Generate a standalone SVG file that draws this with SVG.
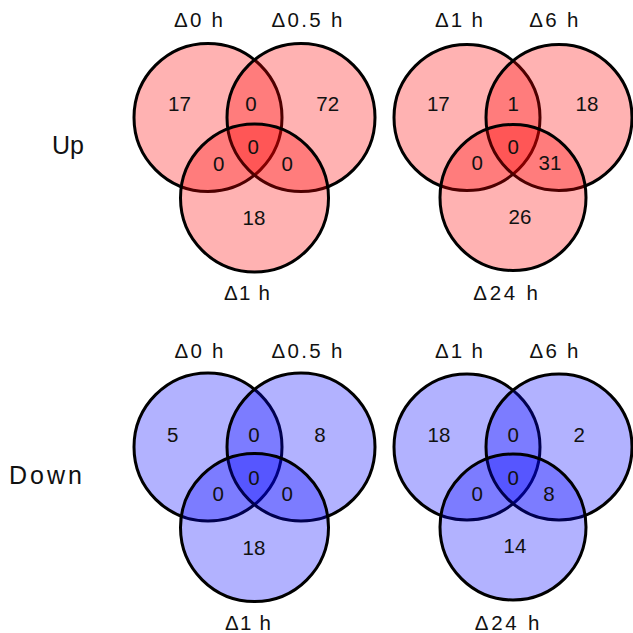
<svg xmlns="http://www.w3.org/2000/svg" width="633" height="633" viewBox="0 0 633 633">
<style>
  .c { stroke: #000; stroke-width: 3; fill-opacity: 0.3; }
  .up .c { fill: #FF0000; }
  .dn .c { fill: #0000FF; }
  text { font-family: "Liberation Sans", Arial, sans-serif; fill: #111; }
  .n { font-size: 20.5px; text-anchor: middle; }
  .lb { font-size: 20.5px; text-anchor: middle; }
  .row { font-size: 25px; text-anchor: end; }
</style>
<rect width="633" height="633" fill="#fff"/>

<text id="label-up" class="row" x="84" y="154" textLength="32" lengthAdjust="spacing">Up</text>
<text id="label-down" class="row" x="82" y="484" textLength="73" lengthAdjust="spacing">Down</text>

<g id="venn-up-1" class="up">
  <circle class="c" cx="208" cy="117.5" r="74"/>
  <circle class="c" cx="301" cy="117.5" r="74"/>
  <circle class="c" cx="254.5" cy="198" r="74"/>
  <text class="lb" x="198.5" y="27" textLength="49" lengthAdjust="spacing">Δ0 h</text>
  <text class="lb" x="307" y="27" textLength="71" lengthAdjust="spacing">Δ0.5 h</text>
  <text class="lb" x="247" y="300" textLength="46" lengthAdjust="spacing">Δ1 h</text>
  <text class="n" x="179.5" y="110.7">17</text>
  <text class="n" x="251" y="110.7">0</text>
  <text class="n" x="327.7" y="110.7">72</text>
  <text class="n" x="253.3" y="154">0</text>
  <text class="n" x="218.7" y="170.7">0</text>
  <text class="n" x="287.3" y="170.7">0</text>
  <text class="n" x="254" y="225">18</text>
</g>

<g id="venn-up-2" class="up">
  <circle class="c" cx="467" cy="117.5" r="73"/>
  <circle class="c" cx="559" cy="117.5" r="73"/>
  <circle class="c" cx="513" cy="197.5" r="73"/>
  <text class="lb" x="459" y="26.7" textLength="48" lengthAdjust="spacing">Δ1 h</text>
  <text class="lb" x="553.8" y="26.7" textLength="49" lengthAdjust="spacing">Δ6 h</text>
  <text class="lb" x="505.5" y="300" textLength="64.6" lengthAdjust="spacing">Δ24 h</text>
  <text class="n" x="438.3" y="110.7">17</text>
  <text class="n" x="513.3" y="110.7">1</text>
  <text class="n" x="587" y="110.7">18</text>
  <text class="n" x="513.3" y="154">0</text>
  <text class="n" x="477.3" y="169.5">0</text>
  <text class="n" x="550" y="169.5">31</text>
  <text class="n" x="520" y="224">26</text>
</g>

<g id="venn-down-1" class="dn">
  <circle class="c" cx="208" cy="447" r="74"/>
  <circle class="c" cx="301" cy="447" r="74"/>
  <circle class="c" cx="254.5" cy="527.5" r="74"/>
  <text class="lb" x="199" y="357.5" textLength="49" lengthAdjust="spacing">Δ0 h</text>
  <text class="lb" x="307" y="357.5" textLength="71" lengthAdjust="spacing">Δ0.5 h</text>
  <text class="lb" x="248" y="630" textLength="46" lengthAdjust="spacing">Δ1 h</text>
  <text class="n" x="172.7" y="441.7">5</text>
  <text class="n" x="254" y="441.7">0</text>
  <text class="n" x="320" y="441.7">8</text>
  <text class="n" x="254" y="485">0</text>
  <text class="n" x="218.3" y="500.7">0</text>
  <text class="n" x="287.3" y="500.7">0</text>
  <text class="n" x="254" y="555">18</text>
</g>

<g id="venn-down-2" class="dn">
  <circle class="c" cx="467" cy="447" r="73"/>
  <circle class="c" cx="559" cy="447" r="73"/>
  <circle class="c" cx="513" cy="527" r="73"/>
  <text class="lb" x="459" y="357.5" textLength="48" lengthAdjust="spacing">Δ1 h</text>
  <text class="lb" x="554" y="357.5" textLength="49" lengthAdjust="spacing">Δ6 h</text>
  <text class="lb" x="507" y="630" textLength="64.6" lengthAdjust="spacing">Δ24 h</text>
  <text class="n" x="439" y="441.7">18</text>
  <text class="n" x="513.3" y="441.7">0</text>
  <text class="n" x="579.3" y="441.7">2</text>
  <text class="n" x="513.3" y="485">0</text>
  <text class="n" x="477.3" y="500.7">0</text>
  <text class="n" x="549" y="500.7">8</text>
  <text class="n" x="515" y="553.3">14</text>
</g>
</svg>
